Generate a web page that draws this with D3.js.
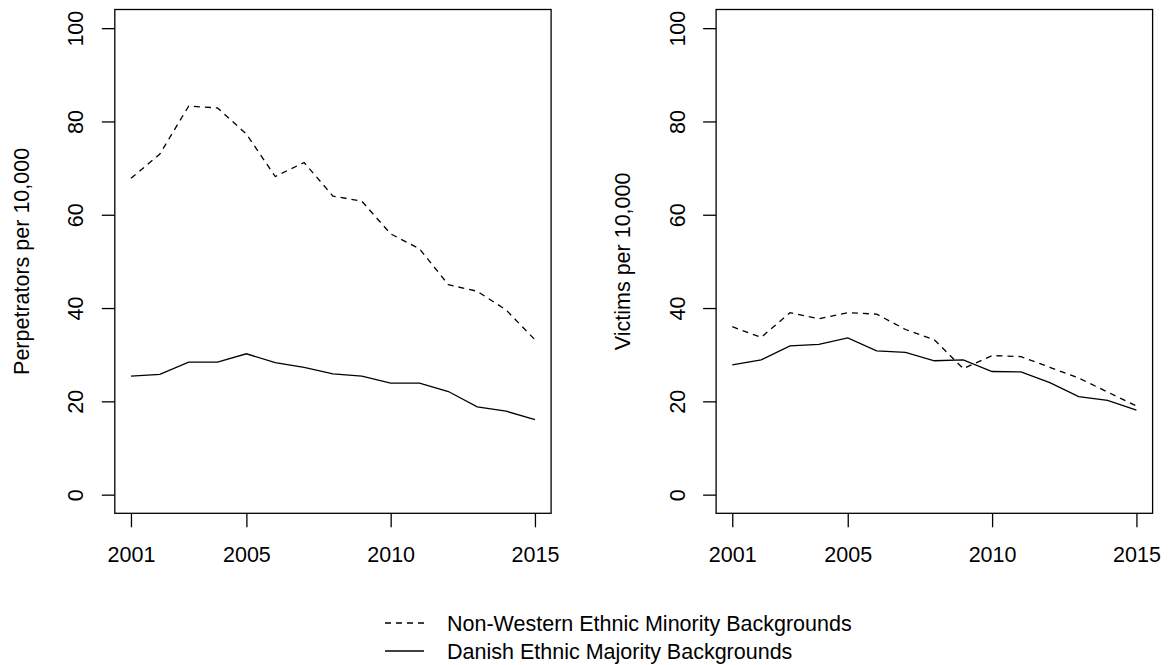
<!DOCTYPE html>
<html>
<head>
<meta charset="utf-8">
<script src="https://cdn.jsdelivr.net/npm/d3@7"></script>
<style>
  body { margin: 0; background: #fff; }
  svg text { font-family: "Liberation Sans", Arial, sans-serif; fill: #000; }
</style>
</head>
<body>
<div id="chart"></div>
<script>
// years on the x axis
const years = [2001,2002,2003,2004,2005,2006,2007,2008,2009,2010,2011,2012,2013,2014,2015];

// rates per 10,000
const perpNonWestern = [67.8,73.0,83.3,82.9,77.3,68.2,71.2,64.0,62.9,55.9,52.7,45.0,43.6,39.6,33.2];
const perpDanish     = [25.4,25.8,28.4,28.4,30.2,28.3,27.3,25.9,25.4,23.9,23.9,22.1,18.8,17.9,16.1];
const victNonWestern = [36.0,33.7,39.0,37.7,39.0,38.7,35.4,33.2,27.0,29.8,29.6,27.3,25.0,22.0,19.0];
const victDanish     = [27.8,28.9,31.9,32.2,33.6,30.8,30.5,28.7,28.9,26.4,26.3,24.0,21.0,20.2,18.1];

const xTicks = [2001,2005,2010,2015];
const yTicks = [0,20,40,60,80,100];
const yTitles = ["Perpetrators per 10,000","Victims per 10,000"];
const legendLabels = ["Non-Western Ethnic Minority Backgrounds","Danish Ethnic Majority Backgrounds"];

const W = 1168, H = 665;
const fs = 21.5;
const dash = "6,5";

const svg = d3.select("#chart").append("svg")
  .attr("width", W).attr("height", H);
svg.append("rect").attr("width", W).attr("height", H).attr("fill", "#fff");

const panels = [
  {left: 114.8, right: 551.1, title: yTitles[0], minority: perpNonWestern, majority: perpDanish},
  {left: 716.1, right: 1152.6, title: yTitles[1], minority: victNonWestern, majority: victDanish}
];
const plotTop = 9.5, plotBottom = 513.3;

// R style: 4% padding on each side of the data range
const y = d3.scaleLinear().domain([-4, 104]).range([plotBottom, plotTop]);

panels.forEach(p => {
  const x = d3.scaleLinear().domain([2001 - 0.56, 2015 + 0.56]).range([p.left, p.right]);
  const g = svg.append("g");

  const line = d3.line()
    .x((d,i) => x(years[i]))
    .y(d => y(d));

  g.append("path")
    .datum(p.minority)
    .attr("d", line)
    .attr("fill","none")
    .attr("stroke","#000")
    .attr("stroke-width",1.3)
    .attr("stroke-dasharray",dash);

  g.append("path")
    .datum(p.majority)
    .attr("d", line)
    .attr("fill","none")
    .attr("stroke","#000")
    .attr("stroke-width",1.3);

  // box
  g.append("rect")
    .attr("x", p.left).attr("y", plotTop)
    .attr("width", p.right - p.left).attr("height", plotBottom - plotTop)
    .attr("fill","none").attr("stroke","#000").attr("stroke-width",1.3);

  // x axis
  const xa = g.append("g")
    .attr("transform", `translate(0,${plotBottom})`)
    .call(d3.axisBottom(x).tickValues(xTicks).tickSize(14).tickFormat(d3.format("d")));
  xa.select(".domain").remove();
  xa.selectAll("line").attr("stroke","#000").attr("stroke-width",1.3);
  xa.selectAll("text")
    .attr("y", 48.5).attr("dy", 0)
    .style("font-size", fs + "px")
    .attr("fill","#000");

  // y axis, labels parallel to the axis
  const ya = g.append("g")
    .attr("transform", `translate(${p.left},0)`)
    .call(d3.axisLeft(y).tickValues(yTicks).tickSize(13));
  ya.select(".domain").remove();
  ya.selectAll("line").attr("stroke","#000").attr("stroke-width",1.3);
  ya.selectAll("text")
    .attr("transform","rotate(-90)")
    .attr("x", 0).attr("y", -31.5).attr("dy", 0)
    .attr("text-anchor","middle")
    .style("font-size", fs + "px")
    .attr("fill","#000");

  g.append("text")
    .attr("transform", `translate(${p.left - 86.3},${(plotTop + plotBottom) / 2}) rotate(-90)`)
    .attr("text-anchor","middle")
    .style("font-size", fs + "px")
    .text(p.title);
});

// legend
const legend = svg.append("g");
[dash, null].forEach((da, i) => {
  const cy = 623 + i * 28;
  legend.append("line")
    .attr("x1", 385).attr("x2", 424)
    .attr("y1", cy).attr("y2", cy)
    .attr("stroke","#000").attr("stroke-width",1.3)
    .attr("stroke-dasharray", da);
  legend.append("text")
    .attr("x", 447).attr("y", cy + 7.5)
    .style("font-size", fs + "px")
    .text(legendLabels[i]);
});
</script>
</body>
</html>
